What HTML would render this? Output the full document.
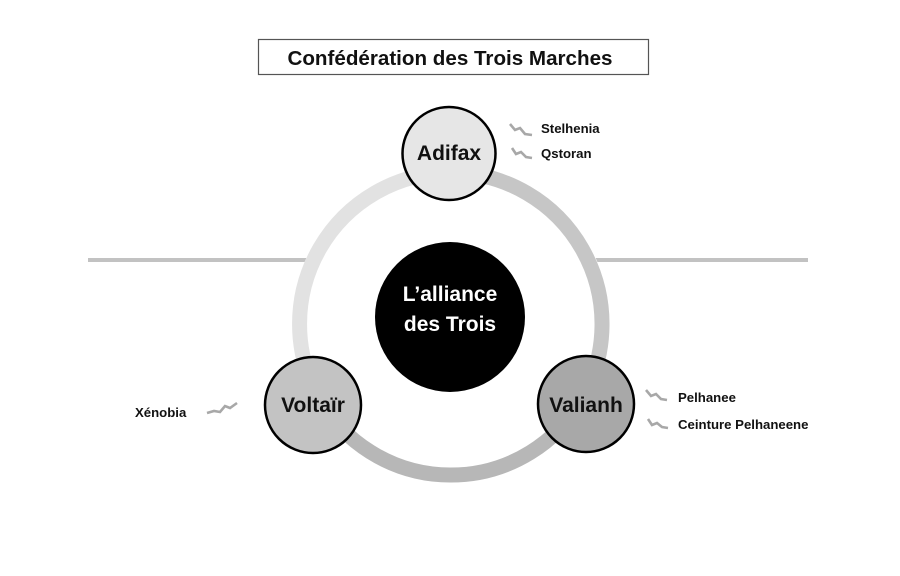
<!DOCTYPE html>
<html>
<head>
<meta charset="utf-8">
<style>
  html, body { margin: 0; padding: 0; background: #ffffff; }
  body { width: 900px; height: 576px; overflow: hidden; }
  svg { display: block; }
  text { font-family: "Liberation Sans", Arial, sans-serif; font-weight: bold; }
</style>
</head>
<body>
<svg width="900" height="576" viewBox="0 0 900 576" xmlns="http://www.w3.org/2000/svg">
  <rect x="0" y="0" width="900" height="576" fill="#ffffff"/>

  <!-- Title -->
  <rect x="258.5" y="39.5" width="390" height="35" fill="#ffffff" stroke="#555555" stroke-width="1.2"/>
  <text x="450" y="65" font-size="20.6" text-anchor="middle" fill="#111111">Confédération des Trois Marches</text>

  <!-- Horizontal line -->
  <line x1="88" y1="260" x2="808" y2="260" stroke="#c2c2c2" stroke-width="4"/>
  <!-- white disk hiding line inside ring -->
  <circle cx="451" cy="324" r="159" fill="#ffffff"/>

  <!-- Ring arcs: center (451,324), r 151.5 -->
  <path d="M 451 172.5 A 151.5 151.5 0 0 0 320 400" fill="none" stroke="#e2e2e2" stroke-width="15"/>
  <path d="M 451 172.5 A 151.5 151.5 0 0 1 581 401" fill="none" stroke="#c6c6c6" stroke-width="15"/>
  <path d="M 581 401 A 151.5 151.5 0 0 1 320 400" fill="none" stroke="#b7b7b7" stroke-width="15"/>

  <!-- Center circle -->
  <circle cx="450" cy="317" r="75" fill="#000000"/>
  <text x="450" y="301" font-size="21" text-anchor="middle" fill="#ffffff">L’alliance</text>
  <text x="450" y="331" font-size="21" text-anchor="middle" fill="#ffffff">des Trois</text>

  <!-- Adifax -->
  <circle cx="449" cy="153.5" r="46.5" fill="#e6e6e6" stroke="#000000" stroke-width="2.5"/>
  <text x="449" y="160" font-size="21" text-anchor="middle" fill="#111111">Adifax</text>

  <!-- Voltaïr -->
  <circle cx="313" cy="405" r="48" fill="#c3c3c3" stroke="#000000" stroke-width="2.5"/>
  <text x="313" y="412" font-size="21" text-anchor="middle" fill="#111111">Voltaïr</text>

  <!-- Valianh -->
  <circle cx="586" cy="404" r="48" fill="#a8a8a8" stroke="#000000" stroke-width="2.5"/>
  <text x="586" y="412" font-size="21" text-anchor="middle" fill="#111111">Valianh</text>

  <!-- Zigzag icons -->
  <g fill="none" stroke="#a8a8a8" stroke-width="2.6" stroke-linejoin="miter">
    <polyline points="510,124 515,130 520,128 525,134 532,135"/>
    <polyline points="512,148 516,154 521,152 526,157 532,158"/>
    <polyline points="646,390 651,396 656,394 661,399 667,400"/>
    <polyline points="648,419 652,425 657,423 662,427 668,428"/>
    <polyline points="207,413 214,411 220,412 225,406 230,408 237,403"/>
  </g>

  <!-- Side labels -->
  <text x="541" y="133" font-size="13.2" fill="#111111">Stelhenia</text>
  <text x="541" y="158" font-size="13.2" fill="#111111">Qstoran</text>
  <text x="678" y="402" font-size="13.2" fill="#111111">Pelhanee</text>
  <text x="678" y="429" font-size="13.2" fill="#111111">Ceinture Pelhaneene</text>
  <text x="135" y="417" font-size="13.2" fill="#111111">Xénobia</text>
</svg>
</body>
</html>
